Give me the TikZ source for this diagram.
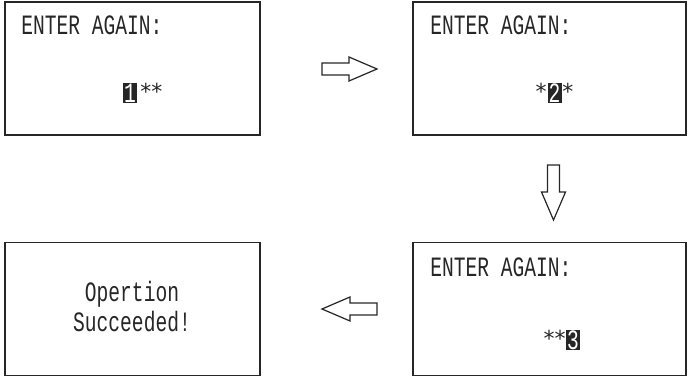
\documentclass[tikz,border=0pt]{standalone}
\usepackage{fontspec}
\newfontfamily\lcdfont[FakeStretch=0.7]{Liberation Mono}
\newfontfamily\starfont{DejaVu Sans}
\begin{document}
\begin{tikzpicture}[x=0.75pt,y=-0.75pt,
    screen/.style={draw=black!85,line width=0.9pt,inner sep=0pt,minimum height=99.75pt},
    lcd/.style={font=\lcdfont\fontsize{21}{22.5}\selectfont,text=black!85,inner sep=0pt},
    stars/.style={font=\starfont\fontsize{16.5}{16.5}\selectfont,text=black!85,inner sep=0pt},
    cursor/.style={lcd,fill=black!85,text=white,minimum width=10.5pt,minimum height=15pt},
    arrowline/.style={draw=black!85,line width=0.9pt,line join=miter},
    blockarrow/.pic={\draw[arrowline] (0,-6) -- (27,-6) -- (27,-12) -- (55,0) -- (27,12) -- (27,6) -- (0,6) -- cycle;}]
    \useasboundingbox (0,0) rectangle (688,378);
    % the four screens
    \node [screen,minimum width=191.25pt] (s1) at (132.5,68.5) {};
    \node [screen,minimum width=204.75pt] (s2) at (549.5,68.5) {};
    \node [screen,minimum width=204.75pt] (s3) at (549.5,309) {};
    \node [screen,minimum width=191.25pt] (s4) at (132.5,309) {};
    % screen 1
    \node [lcd,anchor=base west] (t1) at (21,35) {ENTER AGAIN:};
    \node [cursor] (c1) at (130,93) {1};
    \node [stars,anchor=base west] (r1) at (140,99) {**};
    % screen 2
    \node [lcd,anchor=base west] (t2) at (430,35) {ENTER AGAIN:};
    \node [cursor] (c2) at (554.5,93) {2};
    \node [stars,anchor=base east] (l2) at (547,99) {*};
    \node [stars,anchor=base west] (r2) at (562,99) {*};
    % screen 3
    \node [lcd,anchor=base west] (t3) at (430,276) {ENTER AGAIN:};
    \node [cursor] (c3) at (573,340) {3};
    \node [stars,anchor=base east] (l3) at (566,346) {**};
    % screen 4
    \node [lcd,align=center] (t4) at (132,307) {Opertion\\Succeeded!};
    % arrows between the screens
    \pic (a1) at (322,69) {blockarrow};
    \pic [rotate=-90] (a2) at (553.5,165) {blockarrow};
    \pic [rotate=180] (a3) at (377,309) {blockarrow};
\end{tikzpicture}
\end{document}
